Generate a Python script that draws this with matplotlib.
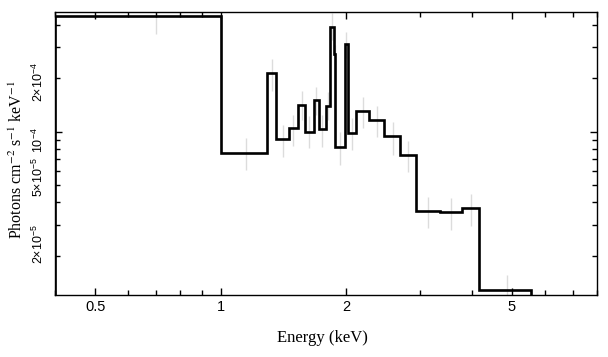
import matplotlib
matplotlib.use("Agg")
import matplotlib.pyplot as plt
import matplotlib.transforms as mtransforms
import numpy as np
from matplotlib.ticker import FixedLocator, FixedFormatter, NullFormatter

plt.rcParams["font.family"] = ["Liberation Sans", "DejaVu Sans"]
plt.rcParams["mathtext.fontset"] = "custom"
plt.rcParams["mathtext.rm"] = "Liberation Sans"
plt.rcParams["mathtext.it"] = "Liberation Sans:italic"
plt.rcParams["mathtext.bf"] = "Liberation Sans:bold"

# Bin edges (keV)
edges = [0.4, 1.0, 1.294, 1.359, 1.458, 1.531, 1.595, 1.670, 1.717, 1.784,
         1.824, 1.868, 1.885, 1.982, 2.015, 2.113, 2.275, 2.470, 2.698,
         2.938, 3.358, 3.783, 4.171, 5.566]
# Histogram values (photons cm^-2 s^-1 keV^-1)
values = [4.47e-4, 7.63e-5, 2.15e-4, 9.12e-5, 1.045e-4, 1.415e-4, 1.0e-4,
          1.51e-4, 1.03e-4, 1.40e-4, 3.87e-4, 2.75e-4, 8.20e-5, 3.11e-4,
          9.83e-5, 1.31e-4, 1.17e-4, 9.46e-5, 7.39e-5, 3.57e-5, 3.51e-5,
          3.71e-5, 1.29e-5]
# Error bar lower / upper limits
err_lo = [3.55e-4, 6.08e-5, 1.70e-4, 7.23e-5, 8.31e-5, 1.16e-4, 8.12e-5,
          1.24e-4, 8.23e-5, 1.16e-4, 3.29e-4, 2.40e-4, 6.49e-5, 2.60e-4,
          7.89e-5, 1.045e-4, 9.30e-5, 7.39e-5, 5.90e-5, 2.85e-5, 2.79e-5,
          2.95e-5, 1.02e-5]
err_hi = [5.40e-4, 9.18e-5, 2.56e-4, 1.09e-4, 1.24e-4, 1.70e-4, 1.226e-4,
          1.79e-4, 1.24e-4, 1.68e-4, 4.65e-4, 3.10e-4, 1.00e-4, 3.66e-4,
          1.195e-4, 1.575e-4, 1.396e-4, 1.139e-4, 8.92e-5, 4.30e-5, 4.21e-5,
          4.45e-5, 1.56e-5]

x_major = [0.5, 1, 2, 5]
x_major_labels = ["0.5", "1", "2", "5"]
x_minor = [0.4, 0.6, 0.7, 0.8, 0.9, 3, 4, 6, 7, 8]
y_labeled = [2e-5, 5e-5, 1e-4, 2e-4]
y_labels = [r"$2{\times}10^{-5}$", r"$5{\times}10^{-5}$", r"$10^{-4}$", r"$2{\times}10^{-4}$"]
y_minor = [2e-5, 3e-5, 4e-5, 5e-5, 6e-5, 7e-5, 8e-5, 9e-5, 2e-4, 3e-4, 4e-4]

fig = plt.figure(figsize=(6.08, 3.57), dpi=100)
ax = fig.add_axes([55/608, 1-294.5/357, (597-55)/608, (294.5-12)/357])
ax.set_xscale("log")
ax.set_yscale("log")
ax.set_xlim(0.4, 8.0)
ax.set_ylim(1.21e-5, 4.73e-4)

e = np.array(edges)
centers = (e[:-1] + e[1:]) / 2
ax.vlines(centers, err_lo, err_hi, color="#dcdcdc", linewidth=1.0, zorder=1)
ax.stairs(values, edges, baseline=1e-7, fill=False, color="black",
          linewidth=1.9, zorder=3)

for s in ax.spines.values():
    s.set_linewidth(1.0)

ax.xaxis.set_major_locator(FixedLocator(x_major))
ax.xaxis.set_major_formatter(FixedFormatter(x_major_labels))
ax.xaxis.set_minor_locator(FixedLocator(x_minor))
ax.xaxis.set_minor_formatter(NullFormatter())
ax.yaxis.set_major_locator(FixedLocator([1e-4]))
ax.yaxis.set_major_formatter(FixedFormatter([""]))
ax.yaxis.set_minor_locator(FixedLocator(y_minor))
ax.yaxis.set_minor_formatter(NullFormatter())

ax.tick_params(which="both", direction="in", top=True, right=True, width=1.0)
ax.tick_params(which="major", length=5)
ax.tick_params(which="minor", length=3.5)
ax.tick_params(axis="x", which="major", labelsize=10.5, pad=4)

# y tick labels (rotated), placed at tick values
label_shift_px = [-12, -8, 8, 4]  # visual offsets seen in the reference (px, +down)
trans = ax.get_yaxis_transform()
for v, s, d in zip(y_labeled, y_labels, label_shift_px):
    t = trans + mtransforms.ScaledTranslation(0, -d / 100.0, fig.dpi_scale_trans)
    ax.text(-9/542, v, s, transform=t, rotation=90, ha="right", va="center",
            fontsize=9)

fig.text(322/608, 1-338/357, "Energy (keV)", ha="center", va="center",
         fontfamily="Liberation Serif", fontsize=12)
fig.text(17.5/608, 1-159.5/357, r"Photons cm$^{-2}$ s$^{-1}$ keV$^{-1}$", rotation=90,
         ha="center", va="center", fontfamily="Liberation Serif", fontsize=11.5,
         math_fontfamily="stix")

fig.savefig("out.png", dpi=100)
